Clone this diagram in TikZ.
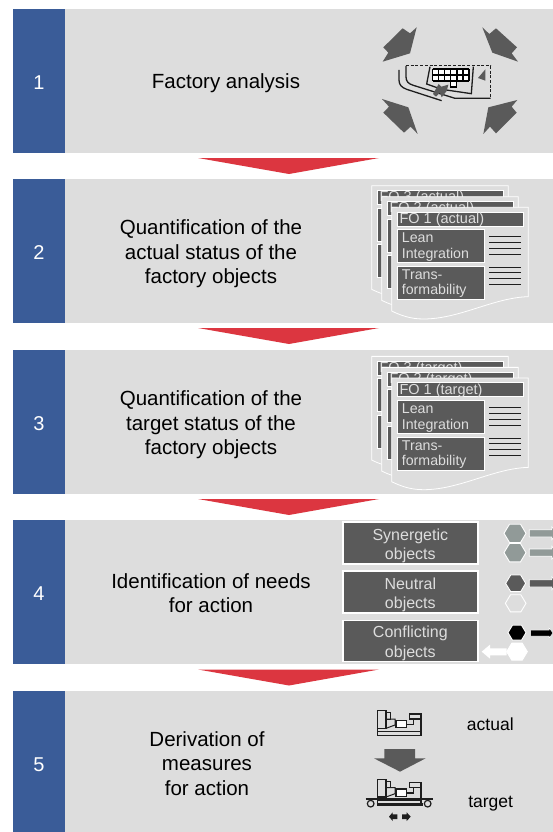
\documentclass[tikz,border=0pt]{standalone}
\usepackage{fontspec}
\setmainfont{Liberation Sans}
\definecolor{barbg}{HTML}{DDDDDD}
\definecolor{barblue}{HTML}{3A5C98}
\definecolor{barred}{HTML}{DC3640}
\definecolor{dk}{HTML}{5A5A5A}
\definecolor{hexgray}{HTML}{919A98}
\definecolor{ink}{HTML}{1E1E1E}
\tikzset{
 bar/.style={fill=barbg,draw=none,minimum width=540pt,minimum height=#1,anchor=north west,inner sep=0},
 numbox/.style={fill=barblue,draw=none,minimum width=52pt,minimum height=#1,anchor=north west,inner sep=0},
 numtext/.style={inner sep=0,text=white,font=\fontsize{20}{24}\selectfont},
 maintext/.style={align=center,inner sep=0,font=\fontsize{20.5}{24.5}\selectfont,text=black},
 redtri/.style={fill=barred,draw=none},
 bigarrow/.style={fill=dk,draw=none},
 docsheet/.style={fill=barbg,draw=white,line width=0.8},
 darkbox/.style={fill=dk,draw=white,line width=1,anchor=north west,inner sep=0},
 docline/.style={draw=ink,line width=0.7},
 objbox/.style={fill=dk,draw=white,line width=1.5,inner sep=0},
 objtext/.style={align=center,inner sep=0,text=barbg,font=\fontsize{16}{19.5}\selectfont},
 hexshape/.style={draw=white,line width=0.9},
 mline/.style={draw=ink,line width=1.5,line join=miter},
 sidelabel/.style={inner sep=0,text=black,font=\fontsize{17.5}{21}\selectfont},
}
% one sheet of a stack: x offset, y offset, name, title
\newcommand{\onesheet}[4]{%
 \begin{scope}[shift={(#1,#2)}]
  \path[docsheet] (95,97) -- (505,97) -- (505,365) .. controls (400,368) and (300,432) .. (190,432) .. controls (150,432) and (120,420) .. (95,408) -- cycle;
  \node[darkbox,minimum width=126pt,minimum height=14pt] (#3t) at (110,110) {};
  \node[anchor=west,inner sep=0,text=barbg,font=\fontsize{14.5}{17}\selectfont] (#3l) at (118,134) {#4};
  \node[darkbox,minimum width=87pt,minimum height=33pt] (#3a) at (110,163) {};
  \node[anchor=north west,inner sep=0,text=barbg,align=left,font=\fontsize{14.2}{15.5}\selectfont] (#3la) at (125,174) {Lean\\Integration};
  \node[darkbox,minimum width=87pt,minimum height=33pt] (#3b) at (110,273) {};
  \node[anchor=north west,inner sep=0,text=barbg,align=left,font=\fontsize{14.2}{15.5}\selectfont] (#3lb) at (125,283) {Trans-\\formability};
  \foreach \yy in {185,203,220,238,277,292,310,328} \draw[docline] (387,\yy) -- (483,\yy);
 \end{scope}}
\newcommand{\docstack}[3]{%
 \begin{scope}[shift={(360,#1)},x=0.33333pt,y=-0.33333pt]
  \onesheet{-60}{-65}{#2c}{FO 3 (#3)}
  \onesheet{-30}{-32}{#2d}{FO 2 (#3)}
  \onesheet{0}{0}{#2e}{FO 1 (#3)}
 \end{scope}}
\newcommand{\machine}{%
  \path[mline] (83,47) rectangle (108,100);
  \path[mline,line width=1] (108,52) -- (120,52) -- (120,72) -- (108,72);
  \path[mline,line width=1] (108,72) -- (135,72) -- (135,90) -- (108,100);
  \path[mline,fill=white] (138,76) rectangle (170,98);
  \path[mline,line width=1.2] (170,88) -- (190,88) -- (190,72);
  \path[mline,line width=1.2] (178,57) rectangle (213,72);
  \path[mline,line width=1.2] (190,72) -- (213,72) -- (213,122);
  \path[mline] (83,100) -- (83,122) -- (213,122);
  \path[mline,line width=1] (85,110) -- (213,110);
}
\newcommand{\hexa}[4]{\path[hexshape,fill=#4] (#1-#3,#2) -- (#1-#3/2,#2-#3*0.83) -- (#1+#3/2,#2-#3*0.83) -- (#1+#3,#2) -- (#1+#3/2,#2+#3*0.83) -- (#1-#3/2,#2+#3*0.83) -- cycle;}
\newcommand{\rarr}[3]{\path[draw=white,line width=0.8,fill=#3] (583,#1-#2) -- (650,#1-#2) -- (650,#1-#2-8) -- (672,#1) -- (650,#1+#2+8) -- (650,#1+#2) -- (583,#1+#2) -- cycle;}
\begin{document}
\begin{tikzpicture}[x=1pt,y=-1pt]
\useasboundingbox (0,0) rectangle (553,832);
\fill[white] (0,0) rectangle (553,832);
% rows
\node[bar=144pt] (r1) at (13,9) {};
\node[bar=144pt] (r2) at (13,179) {};
\node[bar=144pt] (r3) at (13,350) {};
\node[bar=144pt] (r4) at (13,520) {};
\node[bar=141pt] (r5) at (13,691) {};
\node[numbox=144pt] (n1) at (13,9) {};
\node[numbox=144pt] (n2) at (13,179) {};
\node[numbox=144pt] (n3) at (13,350) {};
\node[numbox=144pt] (n4) at (13,520) {};
\node[numbox=141pt] (n5) at (13,691) {};
\node[numtext] (d1) at (39,83) {1};
\node[numtext] (d2) at (39,253) {2};
\node[numtext] (d3) at (39,424) {3};
\node[numtext] (d4) at (39,594) {4};
\node[numtext] (d5) at (39,765) {5};
% red triangles
\foreach \yy in {158,328,499,669.5} \fill[redtri] (198,\yy) -- (379,\yy) -- (289,\yy+16) -- cycle;
% labels
\node[maintext] (t1) at (226,83.5) {Factory analysis};
\node[maintext] (t2) at (211,254) {Quantification of the\\actual status of the\\factory objects};
\node[maintext] (t3) at (211,425) {Quantification of the\\target status of the\\factory objects};
\node[maintext] (t4) at (211,593) {Identification of needs\\for action};
\node[maintext] (t5) at (207,763.5) {Derivation of\\measures\\for action};
% icon row 1
\begin{scope}[shift={(360,10)},x=0.33333pt,y=-0.33333pt]
 \fill[bigarrow] (128,55)--(150,70)--(170,52)--(150,130)--(68,155)--(85,128)--(70,112)--cycle;
 \fill[bigarrow] (367,52)--(388,72)--(408,55)--(471,112)--(455,130)--(474,155)--(397,128)--cycle;
 \fill[bigarrow] (66,267)--(145,292)--(173,372)--(152,350)--(132,368)--(70,308)--(87,290)--cycle;
 \fill[bigarrow] (472,270)--(455,290)--(470,308)--(408,370)--(390,350)--(370,372)--(385,292)--cycle;
 \draw[ink,line width=1,dash pattern=on 3pt off 1.7pt] (138,168) -- (392,168) -- (392,262);
 \draw[ink,line width=1.3] (392,265) -- (285,265) -- (160,226) .. controls (145,221) and (138,215) .. (138,200) -- (138,168);
 \draw[ink,line width=1.3] (117,180) -- (117,210) .. controls (117,225) and (125,232) .. (140,238) -- (245,272);
 \draw[ink,line width=1.3] (210,170) -- (200,222) -- (245,238) -- (334,251) -- (340,170);
 \fill[white] (218,177) rectangle (327,213);
 \fill[white] (272,213) rectangle (290,231);
 \foreach \xx in {218,236.2,254.3,272.5,290.7,308.8,327} \draw[black,line width=1.3] (\xx,177) -- (\xx,213);
 \foreach \yy in {177,195,213} \draw[black,line width=1.3] (218,\yy) -- (327,\yy);
 \draw[black,line width=1.3] (272,213) -- (272,231) -- (290,231) -- (290,213);
 \fill[dk] (376,178) -- (354,204) -- (376,212) -- cycle;
 \fill[dk] (219,252) -- (236,222) -- (244,230) -- (265,224) -- (260,243) -- (245,262) -- (240,248) -- (228,260) -- cycle;
\end{scope}
% stacks
\docstack{175}{a}{actual}
\docstack{345.7}{b}{target}
% row 4
\begin{scope}[shift={(335,515)},x=0.33333pt,y=-0.33333pt]
 \node[objbox,minimum width=135pt,minimum height=42pt] (o1) at (226,84) {};
 \node[objtext] (ot1) at (226,92) {Synergetic\\objects};
 \node[objbox,minimum width=135pt,minimum height=42pt] (o2) at (226,231) {};
 \node[objtext] (ot2) at (226,239) {Neutral\\objects};
 \node[objbox,minimum width=135pt,minimum height=41pt] (o3) at (226,377.5) {};
 \node[objtext] (ot3) at (226,385.5) {Conflicting\\objects};
 \rarr{55}{11}{hexgray}
 \rarr{113}{11}{hexgray}
 \hexa{540}{55}{33}{hexgray}
 \hexa{540}{113}{33}{hexgray}
 \rarr{205}{11}{dk}
 \hexa{542}{205}{30}{dk}
 \hexa{542}{265}{31}{barbg}
 \path[fill=black,draw=white,line width=0.5] (587,345) -- (642,345) -- (642,338) -- (654,354) -- (642,370) -- (642,363) -- (587,363) -- cycle;
 \hexa{546}{353}{27}{black}
 \fill[white] (515,400) -- (465,400) -- (465,389) -- (440,410) -- (465,431) -- (465,421) -- (515,421) -- cycle;
 \hexa{546}{410}{31}{white}
\end{scope}
% row 5
\begin{scope}[shift={(350,695)},x=0.33333pt,y=-0.33333pt]
 \machine
 \fill[dk] (103,162) -- (195,162) -- (195,190) -- (227,190) -- (150,230) -- (72,190) -- (103,190) -- cycle;
 \begin{scope}[shift={(0,206)}]
  \machine
 \end{scope}
 \draw[ink,line width=1.5] (47,312) -- (250,312);
 \draw[ink,line width=1.2,fill=barbg] (62,326) circle (10);
 \draw[ink,line width=1.2,fill=barbg] (233,326) circle (10);
 \draw[ink,line width=2.5] (80,329) -- (218,329);
 \fill[ink] (117,365) -- (128,352) -- (128,358) -- (142,358) -- (142,372) -- (128,372) -- (128,378) -- cycle;
 \fill[ink] (182,365) -- (170,352) -- (170,358) -- (156,358) -- (156,372) -- (170,372) -- (170,378) -- cycle;
 \node[sidelabel] (la) at (421,88) {actual};
 \node[sidelabel] (lt) at (422,325) {target};
\end{scope}
\end{tikzpicture}
\end{document}
